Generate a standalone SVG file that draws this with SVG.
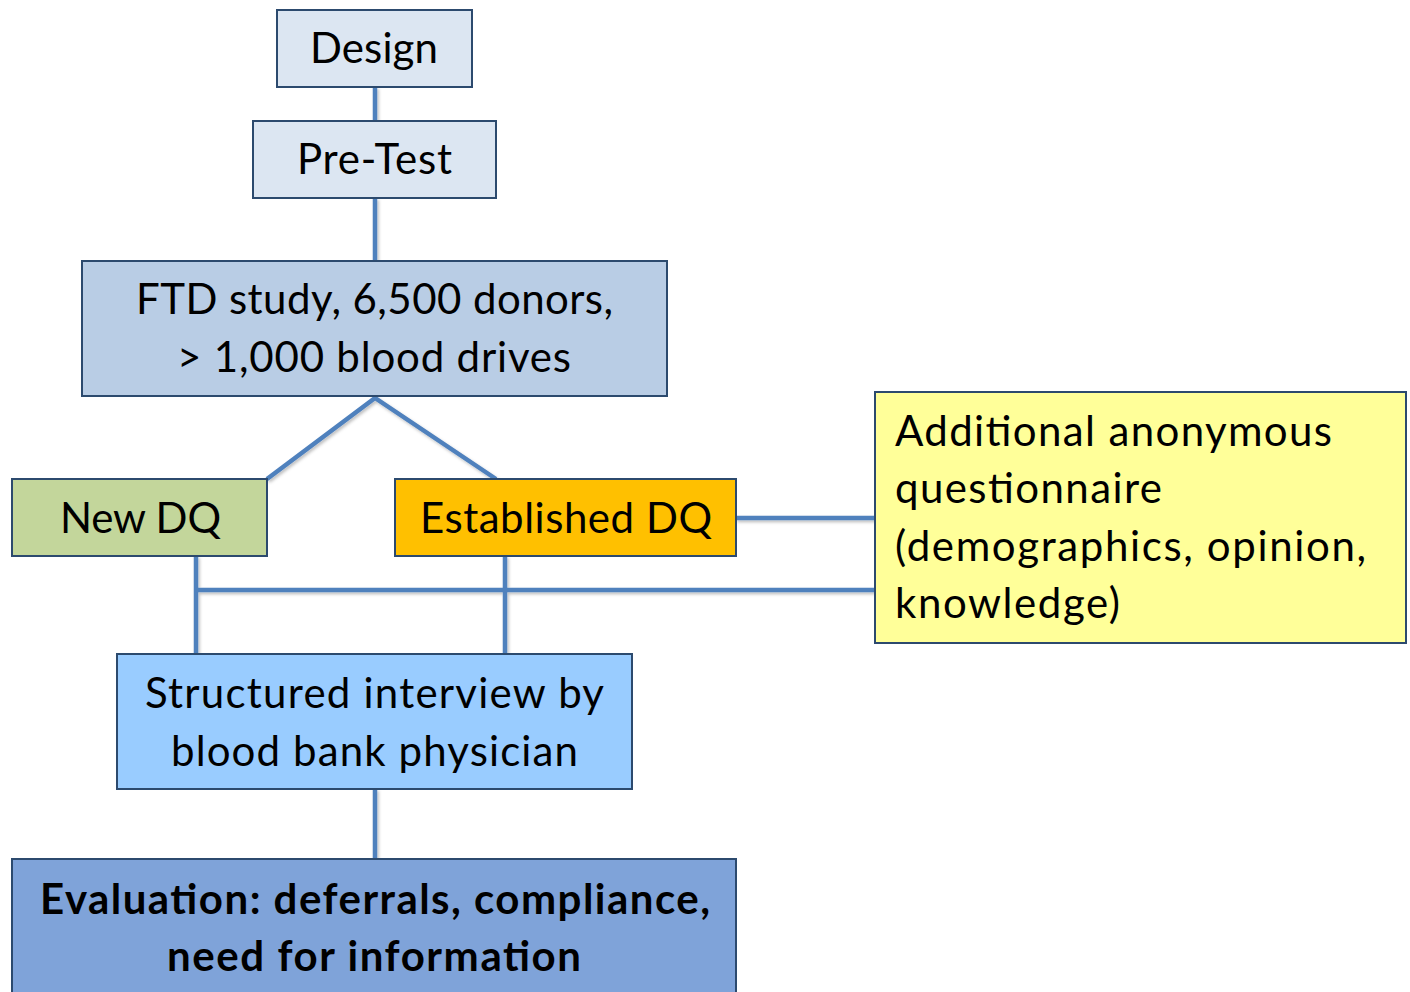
<svg xmlns="http://www.w3.org/2000/svg" width="1410" height="992" viewBox="0 0 1410 992">
  <defs>
    <style>
      .box { stroke: #2c4a6e; stroke-width: 2; }
      .lbl { font-family: Lato, "Open Sans", "Liberation Sans", sans-serif; font-size: 42px; fill: #000; }
      .mid { text-anchor: middle; }
      .bold { font-weight: bold; }
      .wire { stroke: #4f81bd; stroke-width: 4.5; fill: none; }
    </style>
    <filter id="soft" x="-5%" y="-5%" width="110%" height="110%">
      <feDropShadow dx="1.5" dy="2" stdDeviation="1.5" flood-color="#000" flood-opacity="0.25"/>
    </filter>
  </defs>
  <rect width="1410" height="992" fill="#ffffff"/>

  <g id="connectors" filter="url(#soft)">
    <line class="wire" x1="375" y1="87" x2="375" y2="121"/>
    <line class="wire" x1="375" y1="198" x2="375" y2="261"/>
    <polyline class="wire" points="267,479 375,398 496,479"/>
    <line class="wire" x1="736" y1="518" x2="875" y2="518"/>
    <line class="wire" x1="196" y1="556" x2="196" y2="654"/>
    <line class="wire" x1="505" y1="556" x2="505" y2="654"/>
    <line class="wire" x1="196" y1="590" x2="875" y2="590"/>
    <line class="wire" x1="375" y1="789" x2="375" y2="859"/>
  </g>

  <g id="design">
    <rect class="box" x="277" y="10" width="195" height="77" fill="#dce6f2"/>
    <text class="lbl mid" x="374" y="63" textLength="128" lengthAdjust="spacing">Design</text>
  </g>

  <g id="pretest">
    <rect class="box" x="253" y="121" width="243" height="77" fill="#dce6f2"/>
    <text class="lbl mid" x="374.5" y="174" textLength="155" lengthAdjust="spacing">Pre-Test</text>
  </g>

  <g id="ftd-study">
    <rect class="box" x="82" y="261" width="585" height="135" fill="#b9cde5"/>
    <text class="lbl mid" x="374.5" y="314" textLength="477" lengthAdjust="spacing">FTD study, 6,500 donors,</text>
    <text class="lbl mid" x="374" y="372" textLength="394" lengthAdjust="spacing">&gt; 1,000 blood drives</text>
  </g>

  <g id="new-dq">
    <rect class="box" x="12" y="479" width="255" height="77" fill="#c3d69b"/>
    <text class="lbl mid" x="140.5" y="533" textLength="161" lengthAdjust="spacing">New DQ</text>
  </g>

  <g id="established-dq">
    <rect class="box" x="395" y="479" width="341" height="77" fill="#ffc000"/>
    <text class="lbl mid" x="566" y="533" textLength="292" lengthAdjust="spacing">Established DQ</text>
  </g>

  <g id="questionnaire">
    <rect class="box" x="875" y="392" width="531" height="251" fill="#ffff99"/>
    <text class="lbl" x="895" y="446" textLength="437" lengthAdjust="spacing">Additional anonymous</text>
    <text class="lbl" x="895" y="503" textLength="267" lengthAdjust="spacing">questionnaire</text>
    <text class="lbl" x="895" y="561" textLength="471" lengthAdjust="spacing">(demographics, opinion,</text>
    <text class="lbl" x="895" y="618" textLength="225" lengthAdjust="spacing">knowledge)</text>
  </g>

  <g id="interview">
    <rect class="box" x="117" y="654" width="515" height="135" fill="#99ccff"/>
    <text class="lbl mid" x="374.5" y="708" textLength="459" lengthAdjust="spacing">Structured interview by</text>
    <text class="lbl mid" x="374.5" y="766" textLength="407" lengthAdjust="spacing">blood bank physician</text>
  </g>

  <g id="evaluation">
    <rect class="box" x="12" y="859" width="724" height="140" fill="#7fa3d9"/>
    <text class="lbl mid bold" x="375" y="914" textLength="670" lengthAdjust="spacing">Evaluation: deferrals, compliance,</text>
    <text class="lbl mid bold" x="374" y="971" textLength="414" lengthAdjust="spacing">need for information</text>
  </g>
</svg>
